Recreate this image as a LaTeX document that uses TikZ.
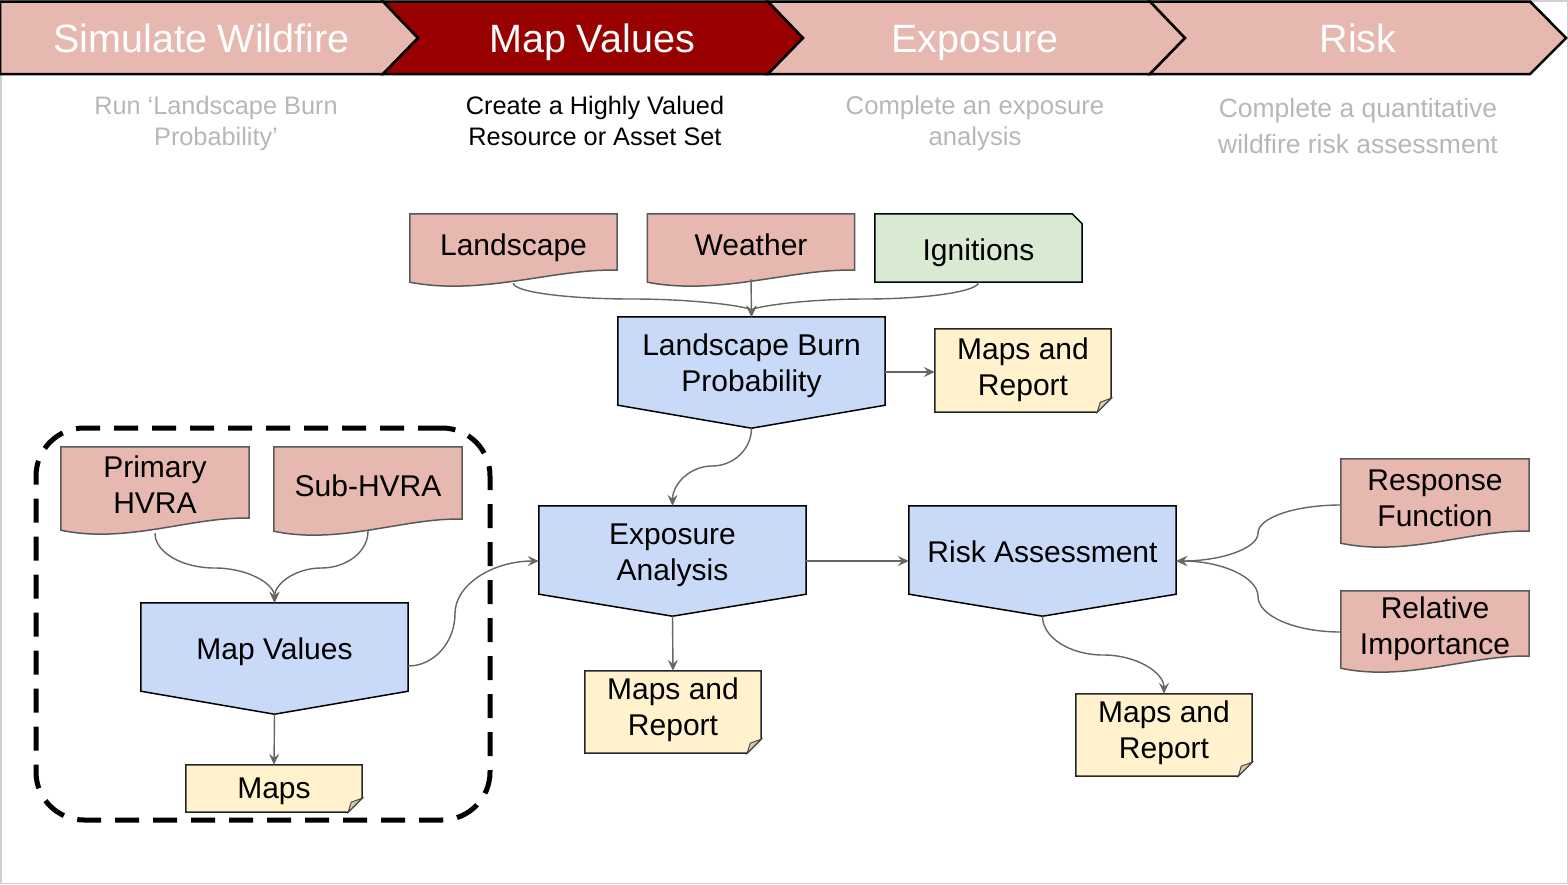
\documentclass[tikz,border=0pt]{standalone}
\usepackage{fontspec}
\setmainfont{Liberation Sans}
\usetikzlibrary{calc,arrows.meta}
\pgfdeclarelayer{background}
\pgfsetlayers{background,main}
\definecolor{pinkf}{HTML}{E6B8AF}
\definecolor{darkred}{HTML}{990000}
\definecolor{bluef}{HTML}{C9DAF8}
\definecolor{greenf}{HTML}{D9EAD3}
\definecolor{notef}{HTML}{FFF2CC}
\definecolor{foldf}{HTML}{D8CBA6}
\definecolor{connc}{HTML}{666666}
\definecolor{capgray}{HTML}{B7B7B7}
\definecolor{docline}{HTML}{595959}
\definecolor{framegray}{HTML}{D0D0D0}
% one line lowered by #1; two lines with the last baseline lowered by #1
\newcommand\oneline[2]{\raisebox{#1}[0pt][0pt]{#2}}
\newcommand\twolines[3]{\raisebox{#1}[0pt][0pt]{\begin{tabular}[b]{@{}c@{}}#2\\#3\end{tabular}}}
\newcommand\captwo[2]{\begin{tabular}[b]{@{}c@{}}#1\\#2\end{tabular}}
\tikzset{
  txt/.style={inner sep=0pt, font=\fontsize{30}{36}\selectfont},
  hdr/.style={inner sep=0pt, anchor=base, text=white, font=\fontsize{39.5}{44}\selectfont},
  captxt/.style={inner sep=0pt, anchor=base, text=capgray, font=\fontsize{25.3}{31}\selectfont},
  chev/.style={draw=black, line width=2.5pt, line join=miter},
  docstyle/.style={draw=docline, fill=pinkf, line width=1.5pt},
  pentstyle/.style={draw=black, fill=bluef, line width=1.5pt},
  notestyle/.style={draw=black!85, fill=notef, line width=1.5pt},
  foldstyle/.style={draw=black!70, fill=foldf, line width=1pt},
  igstyle/.style={draw=black, fill=greenf, line width=1.5pt},
  conn/.style={draw=connc, line width=1.4pt, -{Stealth[length=11pt,width=10pt,inset=4pt]}},
  grpbox/.style={draw=black, line width=5pt, dash pattern=on 24pt off 14pt, rounded corners=48pt, inner sep=0pt}
}
\newcommand\docshape[1]{\begin{pgfonlayer}{background}
\filldraw[docstyle] (#1.north west) -- (#1.north east) -- ($(#1.south east)+(0,-4)$) .. controls ($(#1.south east)!0.3!(#1.south west)+(0,-6)$) and ($(#1.south east)!0.65!(#1.south west)+(0,22)$) .. ($(#1.south west)+(0,8)$) -- cycle;
\end{pgfonlayer}}
\newcommand\pentshape[2]{\begin{pgfonlayer}{background}
\filldraw[pentstyle] (#1.north west) -- (#1.north east) -- (#1.south east) -- ($(#1.south)+(0,#2)$) -- (#1.south west) -- cycle;
\end{pgfonlayer}}
\newcommand\noteshape[1]{\begin{pgfonlayer}{background}
\filldraw[notestyle] (#1.north west) -- (#1.north east) -- ($(#1.south east)+(0,-14)$) -- ($(#1.south east)+(-14,0)$) -- (#1.south west) -- cycle;
\filldraw[foldstyle] ($(#1.south east)+(0,-14)$) -- ($(#1.south east)+(-14,0)$) -- ($(#1.south east)+(-11,-10)$) -- cycle;
\end{pgfonlayer}}
% vertical S-curve: #1 start, #2 end (named coordinates), #3 middle y
\newcommand\vcurve[3]{\coordinate (vm) at ($(#1)!0.5!(#2)$);
\coordinate (vm) at (vm |- 0,#3);
\draw[conn] (#1) .. controls ($(#1)!0.55!(#1 |- vm)$) and ($(vm)!0.55!(#1 |- vm)$) .. (vm)
  .. controls ($(vm)!0.55!(#2 |- vm)$) and ($(#2)!0.55!(#2 |- vm)$) .. (#2);}
% horizontal S-curve: #1 start, #2 end, #3 middle x
\newcommand\hcurve[3]{\coordinate (hm) at ($(#1)!0.5!(#2)$);
\coordinate (hm) at (#3,0 |- hm);
\draw[conn] (#1) .. controls ($(#1)!0.55!(#1 -| hm)$) and ($(hm)!0.55!(#1 -| hm)$) .. (hm)
  .. controls ($(hm)!0.55!(#2 -| hm)$) and ($(#2)!0.55!(#2 -| hm)$) .. (#2);}
\begin{document}
\begin{tikzpicture}[x=1pt,y=-1pt]
\useasboundingbox (0,0) rectangle (1568,884);
\draw[framegray, line width=1.5pt] (0.75,0.75) rectangle (1567.25,883.25);
% header chevrons
\filldraw[chev, fill=pinkf] (0,1.5) -- (383,1.5) -- (418,38) -- (383,74) -- (0,74) -- cycle;
\filldraw[chev, fill=darkred] (383,1.5) -- (768,1.5) -- (803,38) -- (768,74) -- (383,74) -- (418,38) -- cycle;
\filldraw[chev, fill=pinkf] (768,1.5) -- (1150,1.5) -- (1185,38) -- (1150,74) -- (768,74) -- (803,38) -- cycle;
\filldraw[chev, fill=pinkf] (1150,1.5) -- (1530,1.5) -- (1566,38) -- (1530,74) -- (1150,74) -- (1185,38) -- cycle;
\node[hdr] (h1) at (201.5,52) {Simulate Wildfire};
\node[hdr] (h2) at (592,52) {Map Values};
\node[hdr] (h3) at (975,52) {Exposure};
\node[hdr] (h4) at (1358,52) {Risk};
% captions
\node[captxt] (c1) at (216,145.5) {\captwo{Run ‘Landscape Burn}{Probability’}};
\node[captxt, text=black] (c2) at (595,145.5) {\captwo{Create a Highly Valued}{Resource or Asset Set}};
\node[captxt, font=\fontsize{25.7}{31}\selectfont] (c3) at (975,145.5) {\captwo{Complete an exposure}{analysis}};
\node[captxt, font=\fontsize{26.5}{36}\selectfont] (c4) at (1358,153) {\captwo{Complete a quantitative}{wildfire risk assessment}};
% group box
\node[grpbox, minimum width=454, minimum height=392] (grp) at (263,624) {};
% input documents
\node[txt, minimum width=207, minimum height=60] (land) at (513.5,244) {\oneline{-11.25pt}{Landscape}};
\docshape{land}
\node[txt, minimum width=207, minimum height=60] (wea) at (751,244) {\oneline{-11.25pt}{Weather}};
\docshape{wea}
\node[txt, minimum width=207, minimum height=68] (ig) at (978.5,248) {\oneline{-12.75pt}{Ignitions}};
\begin{pgfonlayer}{background}
\filldraw[igstyle] (ig.north west) -- ($(ig.north east)+(-10,0)$) -- ($(ig.north east)+(0,10)$) -- (ig.south east) -- (ig.south west) -- cycle;
\end{pgfonlayer}
\node[txt, minimum width=188, minimum height=75] (prim) at (155,484.5) {\twolines{-28.75pt}{Primary}{HVRA}};
\docshape{prim}
\node[txt, minimum width=188, minimum height=76] (sub) at (368,485) {\oneline{-11.25pt}{Sub-HVRA}};
\docshape{sub}
\node[txt, minimum width=188, minimum height=76] (resp) at (1435,497) {\twolines{-29.25pt}{Response}{Function}};
\docshape{resp}
\node[txt, minimum width=188, minimum height=69] (rel) at (1435,625.5) {\twolines{-28.75pt}{Relative}{Importance}};
\docshape{rel}
% processes
\node[txt, minimum width=267, minimum height=88] (lbp) at (751.5,361) {\twolines{-30.75pt}{Landscape Burn}{Probability}};
\pentshape{lbp}{23}
\node[txt, minimum width=267, minimum height=88] (expo) at (672.5,550) {\twolines{-30.75pt}{Exposure}{Analysis}};
\pentshape{expo}{22}
\node[txt, minimum width=267, minimum height=88] (risk) at (1042.5,550) {\oneline{-12.75pt}{Risk Assessment}};
\pentshape{risk}{22}
\node[txt, minimum width=267, minimum height=88] (mapv) at (274.5,647) {\oneline{-12.75pt}{Map Values}};
\pentshape{mapv}{23}
% outputs
\node[txt, minimum width=176, minimum height=83] (mr1) at (1023,370.5) {\twolines{-24.75pt}{Maps and}{Report}};
\noteshape{mr1}
\node[txt, minimum width=176, minimum height=82] (mr2) at (673,712) {\twolines{-23.5pt}{Maps and}{Report}};
\noteshape{mr2}
\node[txt, minimum width=176, minimum height=82] (mr3) at (1164,735) {\twolines{-23.5pt}{Maps and}{Report}};
\noteshape{mr3}
\node[txt, minimum width=176, minimum height=47] (maps) at (274,788.5) {\oneline{-9.5pt}{Maps}};
\noteshape{maps}
% connection points
\coordinate (landout) at ($(land.south)+(0,9)$);
\coordinate (igout) at (ig.south);
\coordinate (lbpout) at ($(lbp.south)+(0,23)$);
\coordinate (primout) at ($(prim.south)+(0,11)$);
\coordinate (subout) at ($(sub.south)+(0,8)$);
\coordinate (mapvout) at ($(mapv.east)+(0,19)$);
\coordinate (expoin) at ($(expo.west)+(0,11)$);
\coordinate (riskout) at ($(risk.south)+(0,22)$);
\coordinate (riskin) at ($(risk.east)+(0,11)$);
\coordinate (respout) at ($(resp.west)+(0,8)$);
\coordinate (relout) at ($(rel.west)+(0,6.5)$);
\coordinate (lbpin) at (lbp.north);
\coordinate (expotop) at (expo.north);
\coordinate (mapvin) at (mapv.north);
\coordinate (mr3in) at (mr3.north);
% connectors
\vcurve{landout}{lbpin}{299}
\draw[conn] ($(wea.south)+(0,5)$) -- (lbp.north);
\vcurve{igout}{lbpin}{299}
\draw[conn] ($(lbp.east)+(0,11)$) -- ($(mr1.west)+(0,1.5)$);
\vcurve{lbpout}{expotop}{466}
\vcurve{primout}{mapvin}{568}
\vcurve{subout}{mapvin}{568}
\hcurve{mapvout}{expoin}{455}
\draw[conn] ($(expo.east)+(0,11)$) -- (riskin -| risk.west);
\draw[conn] ($(expo.south)+(0,22)$) -- (mr2.north);
\draw[conn] ($(mapv.south)+(0,23)$) -- (maps.north);
\vcurve{riskout}{mr3in}{655}
\hcurve{respout}{riskin}{1258}
\hcurve{relout}{riskin}{1258}
\end{tikzpicture}
\end{document}
